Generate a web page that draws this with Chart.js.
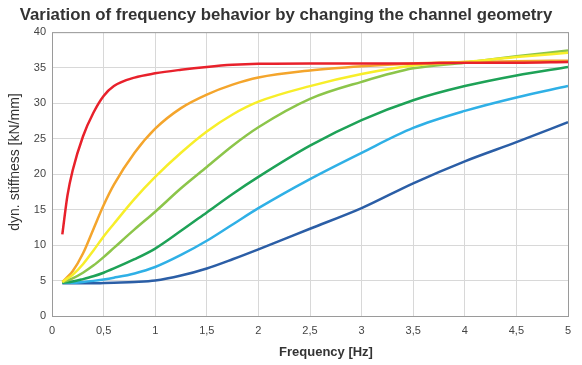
<!DOCTYPE html>
<html lang="en">
<head>
    <meta charset="UTF-8">
    <title>Variation of frequency behavior</title>
    <style>
        body { margin: 0; background: #ffffff; }
        #wrap { width: 582px; height: 365px; position: relative; }
    </style>
</head>
<body>
    <div id="wrap"><canvas id="freqChart" width="582" height="365"></canvas></div>

    <script src="https://cdn.jsdelivr.net/npm/chart.js"></script>
    <script>
        // Frequency sample points [Hz]
        const freqs = [0.1, 0.15, 0.2, 0.3, 0.4, 0.5, 0.6, 0.8, 1, 1.25, 1.5, 1.75, 2, 2.5, 3, 3.5, 4, 4.5, 5];

        // Dynamic stiffness [kN/mm] for each channel geometry
        const redVals = [11.5, 17, 20.5, 25.3, 28.6, 31, 32.4, 33.6, 34.2, 34.7, 35.1, 35.4, 35.55, 35.6, 35.6, 35.6, 35.7, 35.7, 35.8];
        const orangeVals = [4.8, 5.5, 6.3, 8.8, 12.2, 15.6, 18.5, 23, 26.4, 29.3, 31.2, 32.6, 33.6, 34.6, 35.2, 35.6, 35.8, 35.9, 36];
        const yellowVals = [4.8, 5.3, 5.8, 7.3, 9.2, 11.2, 13, 16.5, 19.6, 23, 26, 28.4, 30.2, 32.4, 34.1, 35.3, 35.8, 36.5, 37.1];
        const lightGreenVals = [4.8, 5.0, 5.3, 6.1, 7.1, 8.3, 9.6, 12.2, 14.7, 18, 21, 24, 26.6, 30.6, 33, 34.9, 35.7, 36.6, 37.4];
        const greenVals = [4.7, 4.75, 4.85, 5.2, 5.6, 6.1, 6.7, 8, 9.5, 12, 14.6, 17.2, 19.6, 24, 27.6, 30.4, 32.4, 33.9, 35.1];
        const lightBlueVals = [4.7, 4.7, 4.7, 4.8, 4.95, 5.15, 5.4, 6.0, 6.9, 8.6, 10.6, 12.9, 15.2, 19.3, 23, 26.5, 28.9, 30.8, 32.4];
        const blueVals = [4.6, 4.6, 4.6, 4.6, 4.6, 4.65, 4.7, 4.8, 5.0, 5.7, 6.7, 8.0, 9.4, 12.3, 15.2, 18.7, 21.8, 24.5, 27.3];

        // Axis ticks
        const xTicks = [0, 0.5, 1, 1.5, 2, 2.5, 3, 3.5, 4, 4.5, 5];
        const yTicks = [0, 5, 10, 15, 20, 25, 30, 35, 40];

        const seriesList = [
            { vals: redVals, color: '#e8212b' },
            { vals: yellowVals, color: '#f7ee2a' },
            { vals: lightGreenVals, color: '#8cc54a' },
            { vals: orangeVals, color: '#f4a52c' },
            { vals: greenVals, color: '#1ea257' },
            { vals: lightBlueVals, color: '#2fb0e6' },
            { vals: blueVals, color: '#2b5ea6' }
        ];

        const datasets = seriesList.map(s => ({
            data: freqs.map((f, i) => ({ x: f, y: s.vals[i] })),
            borderColor: s.color,
            borderWidth: 2.5,
            pointRadius: 0,
            fill: false,
            cubicInterpolationMode: 'monotone'
        }));

        const fmt = v => String(v).replace('.', ',');
        const FONT = 'Arial, "Liberation Sans", sans-serif';

        // Grey frame round the plot area plus the two axis titles
        const frame = {
            id: 'frame',
            afterDraw(chart) {
                const a = chart.chartArea, c = chart.ctx;
                c.save();
                c.strokeStyle = '#9a9a9a';
                c.lineWidth = 1;
                c.strokeRect(a.left + 0.5, a.top + 0.5, a.right - a.left, a.bottom - a.top);

                c.fillStyle = '#333333';
                c.textAlign = 'center';
                c.textBaseline = 'middle';
                c.font = 'bold 13px ' + FONT;
                c.fillText('Frequency [Hz]', 326, 352);

                c.translate(15, 162);
                c.rotate(-Math.PI / 2);
                c.font = '14px ' + FONT;
                c.fillText('dyn. stiffness [kN/mm]', 0, 0);
                c.restore();
            }
        };

        new Chart(document.getElementById('freqChart').getContext('2d'), {
            type: 'line',
            data: { datasets: datasets },
            plugins: [frame],
            options: {
                responsive: false,
                animation: false,
                layout: { padding: { left: 4, right: 14, top: 0, bottom: 2 } },
                plugins: {
                    legend: { display: false },
                    tooltip: { enabled: false },
                    title: {
                        display: true,
                        text: 'Variation of frequency behavior by changing the channel geometry',
                        color: '#333333',
                        font: { family: FONT, size: 16.8, weight: 'bold' },
                        padding: { top: 5, bottom: 7 }
                    }
                },
                scales: {
                    x: {
                        type: 'linear',
                        min: 0,
                        max: 5,
                        afterBuildTicks: axis => { axis.ticks = xTicks.map(v => ({ value: v })); },
                        afterFit: axis => { axis.height = 47; },
                        ticks: {
                            callback: v => fmt(v),
                            color: '#444444',
                            font: { family: FONT, size: 11 },
                            maxRotation: 0,
                            padding: 8
                        },
                        grid: { color: '#d8d8d8', drawTicks: false },
                        border: { display: false }
                    },
                    y: {
                        min: 0,
                        max: 40,
                        afterBuildTicks: axis => { axis.ticks = yTicks.map(v => ({ value: v })); },
                        afterFit: axis => { axis.width = 48; },
                        ticks: {
                            color: '#444444',
                            font: { family: FONT, size: 11 },
                            padding: 6
                        },
                        grid: { color: '#d8d8d8', drawTicks: false },
                        border: { display: false }
                    }
                }
            }
        });
    </script>
</body>
</html>
